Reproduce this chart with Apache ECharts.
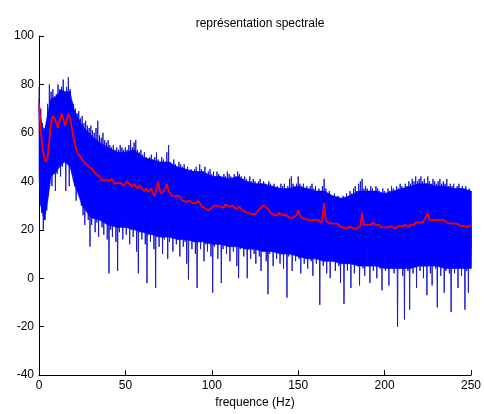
<!DOCTYPE html>
<html>
<head>
<meta charset="utf-8">
<script src="https://cdn.jsdelivr.net/npm/echarts@6/dist/echarts.min.js"></script>
<style>html,body{margin:0;padding:0;background:#fff}#c{width:484px;height:414px}</style>
</head>
<body>
<div id="c"></div>
<script>
// Blue spectrum: local maxima at x = 0..250 (1 Hz step) and minima at x + 0.5
const blueHigh = [
79,70,64,62,63,72,80,77,78,75,
76,80,78,79,82,77,79,83,78,73,
72,70,68,69,66,67,64,65,63,62,
63,61,60,62,65,59,58,60,57,56,
57,55,54,55,53,54,53,55,54,53,
54,53,55,57,54,56,57,53,52,53,
51,52,50,49,50,51,49,50,52,49,
48,50,49,48,52,55,48,47,49,47,
46,48,47,46,47,45,46,44,45,44,
45,46,44,47,45,44,46,43,44,45,
43,44,42,44,43,42,41,43,42,44,
43,42,41,43,42,44,43,42,41,42,
41,40,42,40,41,40,39,40,41,39,
40,39,38,40,39,38,39,37,38,37,
39,38,39,37,38,41,42,39,38,39,
42,39,38,39,37,38,37,38,39,37,
38,36,37,36,38,41,37,35,36,34,
34,35,33,34,32,33,34,33,35,34,
36,35,37,38,36,39,40,41,37,38,
37,36,38,37,36,38,37,36,35,37,
36,35,37,36,38,37,36,38,37,39,
38,37,39,38,40,39,41,40,42,40,
41,42,40,41,39,42,40,39,41,40,
39,40,41,39,40,39,41,38,39,38,
39,37,38,39,37,38,37,38,36,37,
36];
const blueLow = [
40,27,20,24,28,34,44,38,45,36,
43,50,42,46,52,36,48,38,50,44,
38,32,40,35,30,26,22,28,24,13,
22,25,19,23,17,24,21,18,23,16,
2,20,17,22,15,3,19,23,16,21,
18,22,14,20,17,21,11,2,19,16,
20,14,-2,18,15,19,12,-4,17,13,
18,10,16,19,8,15,17,11,18,14,
16,9,17,13,15,6,-0.5,16,12,15,
10,-4,15,12,16,7,14,11,15,9,
-6,13,15,8,14,-2,12,15,10,13,
7,14,11,13,5,0,12,14,9,13,
0,12,8,13,10,6,12,9,3,11,
12,7,-6.6,10,12,5,11,8,12,6,
10,4,12,-8,9,11,3,10,7,11,
8,2,10,6,9,4,10,7,1,9,
6,10,-11,8,5,9,2,8,0,7,
9,3,8,5,-2,9,-10.6,7,3,8,
-4,7,2,8,5,-3,7,4,1,8,
5,-2,7,3,6,0,8,4,-5,6,
3,7,-3,5,8,2,6,-20,4,7,
1,-17,6,3,-13,7,2,5,-4,6,
3,7,0,5,-7,6,2,-3,7,4,
-12,5,1,6,-6,3,7,2,-14,5,
2,6,-4,5,1,7,-13,3,-6,6,
4];
// Solid (densely filled) body of the blue spectrum: its top and bottom edges
const bandX = [0,1,3,5,7,10,13,15,18,20,25,30,35,40,45,50,55,60,65,70,75,80,85,90,95,100,
  105,110,115,120,125,130,135,140,145,150,155,160,165,170,175,180,185,190,195,200,
  205,210,215,220,225,230,235,240,245,250];
const bandTop = [74,66,60,68,74,75,78,77,77,70,63,59,56,54,52,52,53,50,49,48,48,46,45,44,44,42,
  42,41,42,40,39,39,38,37,37,38,37,36,36,34,33,34,36,36,36,35,
  36,37,38,39,39,38,38,37,37,36];
const bandBottom = [42,30,24,32,42,44,47,48,46,40,30,25,24,22,21,21,20,19,18,17,17,16,16,15,15,14,
  14,13,13,12,12,11,11,10,10,9,8,8,7,7,6,6,5,5,5,4,
  4,4,4,5,5,5,4,4,4,4];
// Red smoothed spectrum, x = 0..250 (1 Hz step)
const redLine = [
72,61,54,50,48,50,57,64,67,66,
64,62,65,68,66,63,65,68,66,62,
58,55,52,51,50,49,48,47,46.5,46,
45.5,45,44,43,42.5,42,41,40.5,40,41,
40,40.5,41,40,39,38.5,39.5,40,39,38,
39,40,39,38.5,38,39,38,37,38.5,37.5,
37,36,37,35.5,36,37,35,34,37,40,
36,35,36,37,39,36,35,34,34.5,34,
33.5,34,33,32,32.5,31.5,31,32,31.5,31,
31.5,31,32,31,30,29.5,29,28.5,28,28.5,
29,30,29.5,30,30.5,29.5,30,29,30.5,30,
29.5,29,30,29.5,28.5,29,29.5,28.5,28,27.5,
27.5,27,27.5,26.5,27,26.5,27,28,29,29.5,
30,29.5,29,28,27,26.5,26,26.5,26,27,
26.5,26,25.5,26,25.5,25,24.5,25,25.5,26,
28,26,25,25.5,24.5,25,24,24.5,24,23.5,
24,23.5,24,23,24,31,24,23,23.5,22.5,
23,22.5,22,22.5,21.5,22,21,21.5,20.5,21,
21.5,21,20.5,21,20.5,21,21.5,27,22,21.5,
22,22.5,22,23,22.5,22,21.5,22,21,21.5,
21,20.5,21,20.5,21.5,21,20.5,21,21.5,22,
21.5,21,22,21.5,21,22,22.5,22,23,22.5,
23,23.5,23,24,23.5,27,24,23.5,24,24.5,
24,24.5,24,23.5,24,23.5,23,23.5,22.5,23,
22.5,22,22.5,22,21.5,22,21.5,22,21,21.5,
22];
const xTicks = [0, 50, 100, 150, 200, 250];
const yTicks = [-40, -20, 0, 20, 40, 60, 80, 100];
const titleText = 'représentation spectrale';
const xLabel = 'frequence (Hz)';

const blueData = [];
for (let i = 0; i < blueHigh.length; i++) {
  blueData.push([i, blueHigh[i]]);
  if (i < blueLow.length) blueData.push([i + 0.5, blueLow[i]]);
}
const redData = redLine.map((v, i) => [i, v]);
const bandSegs = [];
for (let i = 0; i < bandX.length - 1; i++) {
  bandSegs.push([bandX[i], bandBottom[i], bandTop[i], bandX[i + 1], bandBottom[i + 1], bandTop[i + 1]]);
}

const font = 'Liberation Sans, Arial, sans-serif';
const chart = echarts.init(document.getElementById('c'), null, {renderer: 'canvas'});
chart.setOption({
  animation: false,
  backgroundColor: '#ffffff',
  title: {
    text: titleText,
    left: 255,
    top: 13,
    textAlign: 'center',
    textStyle: {fontFamily: font, fontSize: 12, fontWeight: 'normal', color: '#000'}
  },
  grid: {left: 39, right: 9, top: 36, bottom: 35, containLabel: false},
  xAxis: {
    type: 'value',
    min: xTicks[0], max: xTicks[xTicks.length - 1], interval: 50,
    name: xLabel, nameLocation: 'middle', nameGap: 21,
    nameTextStyle: {fontFamily: font, fontSize: 12, color: '#000'},
    axisLine: {show: true, onZero: false, lineStyle: {color: '#000', width: 1}},
    axisTick: {show: true, inside: true, length: 5, lineStyle: {color: '#000'}},
    axisLabel: {fontFamily: font, fontSize: 12, color: '#000', margin: 5},
    splitLine: {show: false}
  },
  yAxis: {
    type: 'value',
    min: yTicks[0], max: yTicks[yTicks.length - 1], interval: 20,
    axisLine: {show: true, onZero: false, lineStyle: {color: '#000', width: 1}},
    axisTick: {show: true, inside: true, length: 5, lineStyle: {color: '#000'}},
    axisLabel: {fontFamily: font, fontSize: 12, color: '#000', margin: 5},
    splitLine: {show: false}
  },
  series: [
    {
      type: 'line', data: blueData, showSymbol: false, symbol: 'none',
      sampling: null, clip: true,
      lineStyle: {color: '#1c1cc8', width: 1}, z: 2
    },
    {
      type: 'custom', data: bandSegs, z: 3, silent: true,
      encode: {x: [0, 3], y: [1, 2, 4, 5]},
      renderItem: function (params, api) {
        const p1 = api.coord([api.value(0), api.value(2)]);
        const p2 = api.coord([api.value(3), api.value(5)]);
        const p3 = api.coord([api.value(3), api.value(4)]);
        const p4 = api.coord([api.value(0), api.value(1)]);
        return {
          type: 'polygon',
          shape: {points: [p1, p2, p3, p4]},
          style: {fill: '#0000ff', stroke: '#0000ff', lineWidth: 0.6}
        };
      }
    },
    {
      type: 'line', data: redData, showSymbol: false, symbol: 'none',
      clip: true,
      lineStyle: {color: '#ff0000', width: 1.8}, z: 4
    }
  ]
});
</script>
</body>
</html>
